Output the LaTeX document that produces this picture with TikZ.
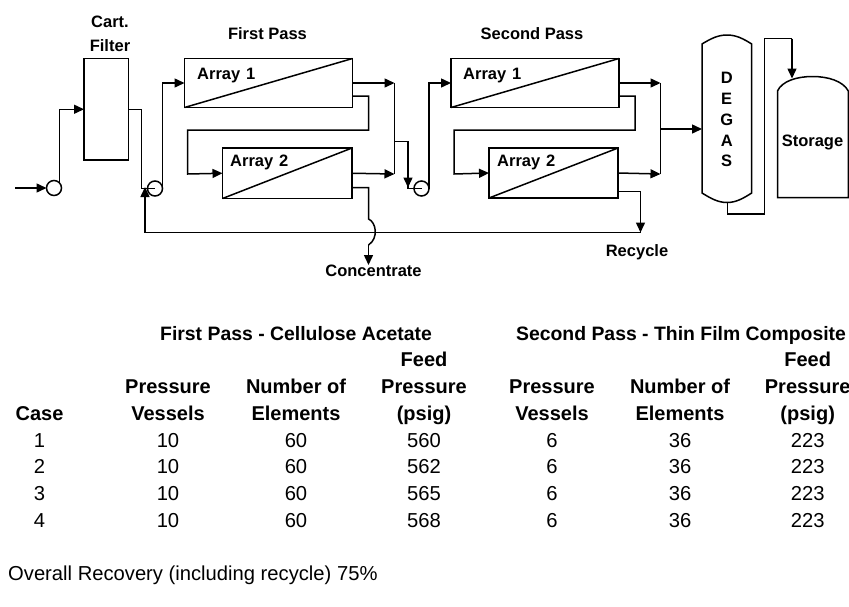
\documentclass[tikz,border=0pt]{standalone}
\usepackage{fontspec}
\setmainfont{Liberation Sans}
\usetikzlibrary{arrows.meta, calc}
\tikzset{
  pipe/.style={line width=1.5pt, line join=miter},
  flow/.style={pipe, -{Triangle[length=10pt,width=9pt]}},
  unit/.style={draw, line width=1.5pt, rectangle, outer sep=0pt, inner sep=0pt},
  pump/.style={draw, line width=1.5pt, circle, minimum size=15pt, outer sep=0pt, inner sep=0pt},
  lbl/.style={anchor=base, inner sep=0pt, font=\fontsize{16.5}{20}\selectfont\bfseries},
  lblleft/.style={lbl, anchor=base west},
  ttl/.style={anchor=base, inner sep=0pt, font=\fontsize{19.4}{24}\selectfont\bfseries},
  hdr/.style={anchor=base, inner sep=0pt, font=\fontsize{20}{24}\selectfont\bfseries},
  cell/.style={anchor=base, inner sep=0pt, font=\fontsize{20.2}{24}\selectfont}
}
\begin{document}
\begin{tikzpicture}[x=1pt, y=-1pt]
  \useasboundingbox (0,0) rectangle (849,606);

  \node[unit, minimum width=44.5pt, minimum height=101.5pt] (filter) at (106.25,109.25) {};
  \node[unit, minimum width=168pt, minimum height=49pt] (aone) at (268.5,83) {};
  \node[unit, minimum width=129.5pt, minimum height=50.5pt] (atwo) at (287.25,173.25) {};
  \node[unit, minimum width=168pt, minimum height=49pt] (bone) at (535,83) {};
  \node[unit, minimum width=129pt, minimum height=50pt] (btwo) at (553.5,173) {};
  \node[pump] (pone) at (54,188) {};
  \node[pump] (ptwo) at (155,188.5) {};
  \node[pump] (pthree) at (421.5,188.5) {};

  \draw[pipe] (aone.south west) -- (aone.north east);
  \draw[pipe] (atwo.south west) -- (atwo.north east);
  \draw[pipe] (bone.south west) -- (bone.north east);
  \draw[pipe] (btwo.south west) -- (btwo.north east);

  \draw[pipe] (702,44) .. controls (711,38.5) and (718,35) .. (727,35) .. controls (736,35) and (743,38.5) .. (751.7,44)
    -- (751.7,193) .. controls (743,198.5) and (736,202.5) .. (727,202.5) .. controls (718,202.5) and (711,198.5) .. (702,193) -- cycle;
  \draw[pipe] (777.5,197.5) -- (777.5,91) .. controls (782,81) and (797,76.5) .. (812.5,76.5) .. controls (828,76.5) and (843,81) .. (848.3,91) -- (848.3,197.5) -- cycle;

  \coordinate (feedin) at (15,188);
  \coordinate (hdra) at (394.5,83);
  \coordinate (hdrb) at (394.5,174);
  \coordinate (hdrc) at (660.5,83);
  \coordinate (hdrd) at (660.5,174);
  \coordinate (degasin) at (702,129);
  \coordinate (degasout) at (727.5,202.5);
  \coordinate (storein) at (792,78.5);
  \coordinate (recycleend) at (640.5,232.5);
  \coordinate (recyclein) at (145,187);
  \coordinate (concout) at (368.5,265);

  \draw[flow] (feedin) -- (pone.west);
  \draw[flow] (pone.45) |- (filter.west);
  \draw[pipe] (filter.east) -| (141.5,188.5) -- (ptwo.center);
  \draw[flow] (ptwo.east) |- (aone.west);
  \draw[flow] (aone.east) -- (hdra);
  \draw[flow] (atwo.east) -- (hdrb);
  \draw[pipe] (hdra) -- (hdrb);
  \draw[flow] ([yshift=11.5pt]aone.south east) -| (368.5,130) -| (187.5,174) -- (atwo.west);
  \draw[pipe] (394.5,141.5) -| (408,188.5) -- (pthree.center);
  \draw[flow] (394.5,141.5) -| (408,187.5);
  \draw[flow] (pthree.east) |- (bone.west);
  \draw[flow] (bone.east) -- (hdrc);
  \draw[flow] (btwo.east) -- (hdrd);
  \draw[pipe] (hdrc) -- (hdrd);
  \draw[flow] ([yshift=11.5pt]bone.south east) -| (635,130) -| (454,174) -- (btwo.west);
  \draw[flow] (660.5,129) -- (degasin);
  \draw[flow] ([yshift=6.5pt]btwo.south east) -| (recycleend);
  \draw[flow] (recycleend) -| (recyclein);
  \draw[pipe] ([yshift=11pt]atwo.south east) -| (368.5,219) .. controls (376,222) and (379,238) .. (368.5,245);
  \draw[flow] (368.5,245) -- (concout);
  \draw[pipe] (degasout) |- (764.5,214) |- (792,38.5);
  \draw[flow] (792,38.5) -- (storein);

  \node[lbl] (cart) at (110,27.5) {Cart.};
  \node[lbl] (cartb) at (110,51.5) {Filter};
  \node[lbl] (firstpass) at (267.5,39) {First Pass};
  \node[lbl] (secondpass) at (532,39.5) {Second Pass};
  \node[lblleft] (aonelbl) at (197,79) {Array\hspace{0.35em}1};
  \node[lblleft] (atwolbl) at (230,166) {Array\hspace{0.35em}2};
  \node[lblleft] (bonelbl) at (463,79) {Array\hspace{0.35em}1};
  \node[lblleft] (btwolbl) at (497,166) {Array\hspace{0.35em}2};
  \node[lbl] (conc) at (373.5,276.5) {Concentrate};
  \node[lbl] (recy) at (637,256.5) {Recycle};
  \node[lbl] (store) at (812.5,146) {Storage};
  \node[lbl] (dd) at (726.7,83.5) {D};
  \node[lbl] (de) at (726.7,104.5) {E};
  \node[lbl] (dg) at (726.7,125) {G};
  \node[lbl] (da) at (726.7,146) {A};
  \node[lbl] (ds) at (726.7,166) {S};

  \node[ttl] (tfirst) at (296,340) {First Pass - Cellulose Acetate};
  \node[ttl] (tsecond) at (681,340) {Second Pass - Thin Film Composite};
  \node[hdr] (hcase) at (39.5,420) {Case};
  \node[hdr] (hfa) at (168,393) {Pressure};
  \node[hdr] (hfb) at (168,420) {Vessels};
  \node[hdr] (hfc) at (296,393) {Number of};
  \node[hdr] (hfd) at (296,420) {Elements};
  \node[hdr] (hfe) at (424,366.5) {Feed};
  \node[hdr] (hff) at (424,393) {Pressure};
  \node[hdr] (hfg) at (424,420) {(psig)};
  \node[hdr] (hsa) at (552,393) {Pressure};
  \node[hdr] (hsb) at (552,420) {Vessels};
  \node[hdr] (hsc) at (680,393) {Number of};
  \node[hdr] (hsd) at (680,420) {Elements};
  \node[hdr] (hse) at (807.7,366.5) {Feed};
  \node[hdr] (hsf) at (807.7,393) {Pressure};
  \node[hdr] (hsg) at (807.7,420) {(psig)};

  \foreach \rowy/\casenum/\feedp in {447/1/560, 473.5/2/562, 500/3/565, 527/4/568} {
    \node[cell] (case\casenum) at (39.5,\rowy) {\casenum};
    \node[cell] (fv\casenum) at (168,\rowy) {10};
    \node[cell] (fn\casenum) at (296,\rowy) {60};
    \node[cell] (fp\casenum) at (424,\rowy) {\feedp};
    \node[cell] (sv\casenum) at (552,\rowy) {6};
    \node[cell] (sn\casenum) at (680,\rowy) {36};
    \node[cell] (sp\casenum) at (807.7,\rowy) {223};
  }

  \node[cell, anchor=base west] (overall) at (8,580) {Overall Recovery (including recycle) 75\%};
\end{tikzpicture}
\end{document}
